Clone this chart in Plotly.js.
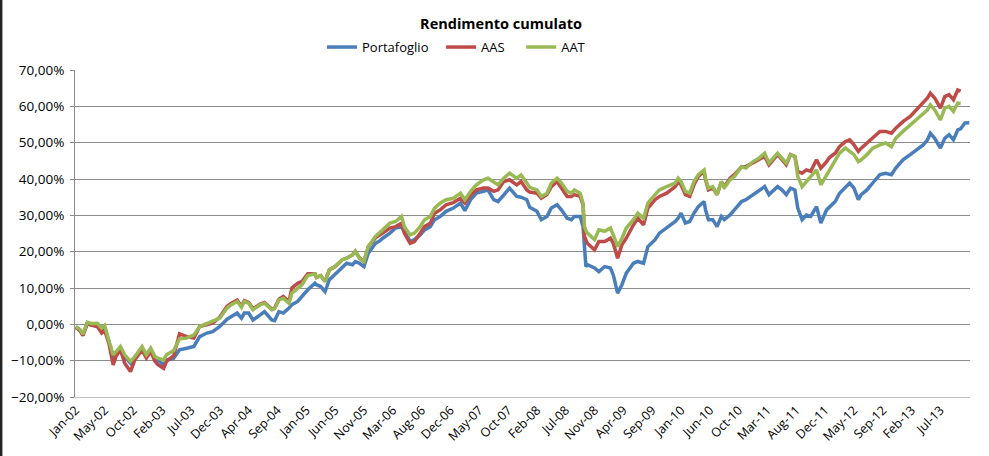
<!DOCTYPE html>
<html>
<head>
<meta charset="utf-8">
<script src="https://cdn.plot.ly/plotly-3.0.1.min.js"></script>
<style>
html,body{margin:0;padding:0;background:#fff;}
#chart{width:989px;height:456px;}
</style>
</head>
<body>
<div id="chart"></div>
<script>
// weekly category index (week 0 = first week of Jan 2002)
const weeks = [0,3,5,8,11,15,18,20,23,26,28,31,34,38,41,46,49,52,55,57,61,63,68,72,77,82,86,91,95,100,
105,108,112,115,117,120,123,128,131,136,138,141,144,148,150,154,157,161,166,167,170,173,176,180,185,188,192,194,197,200,
203,208,211,213,218,222,226,228,232,235,239,242,246,249,253,257,262,267,270,274,278,283,286,290,293,297,301,306,309,313,
315,320,323,327,330,334,337,341,344,346,350,352,353,354,355,360,363,367,371,373,376,379,382,387,390,394,397,402,405,410,
416,418,420,423,426,429,432,436,437,439,442,445,448,450,454,457,462,465,470,474,478,481,485,487,490,493,496,499,501,504,
507,510,514,517,521,523,527,530,534,537,540,543,545,549,553,558,562,566,569,574,579,583,588,591,593,596,600,603,606,609,
612,614,617,620];

const portafoglio = [-0.7,-1.6,-2.9,0.3,-0.2,-0.4,-1.5,-1.0,-4.7,-9.3,-7.8,-6.8,-8.9,-10.7,-9.0,-6.6,-8.5,-6.8,-9.3,-9.8,-11.2,-9.8,-9.3,-7.0,-6.6,-6.1,-3.4,-2.4,-2.0,-0.6,
1.4,2.2,3.1,1.7,3.1,3.1,1.2,2.6,3.5,1.2,1.0,3.5,3.1,4.5,5.4,6.3,7.7,9.5,11.3,10.9,10.4,9.0,12.3,13.9,15.9,16.8,16.4,17.3,16.8,15.9,
19.6,22.3,23.0,23.7,25.1,26.5,26.9,25.5,22.8,23.3,24.6,26.0,26.9,28.8,29.7,31.1,32.0,33.4,31.3,34.3,36.1,36.6,37.0,34.3,33.8,35.6,37.5,35.2,35.0,34.3,
32.2,31.1,28.8,29.7,32.0,32.9,31.5,29.2,28.8,29.7,29.7,26.9,21.4,15.9,16.4,15.5,14.5,15.9,15.5,13.6,8.6,10.9,14.1,16.8,17.3,16.8,21.4,23.3,25.1,26.5,
28.3,29.2,30.6,27.9,28.3,30.6,32.4,33.8,31.5,28.8,28.8,26.9,29.7,28.8,30.1,31.5,33.8,34.3,35.7,36.6,37.9,35.7,37.0,37.9,37.0,35.7,37.5,37.0,32.0,28.8,
30.1,29.7,32.4,27.9,31.5,32.2,33.8,36.1,37.9,38.9,37.5,34.3,35.7,37.0,38.9,41.2,41.6,41.2,43.0,45.3,46.7,48.0,49.4,50.8,52.6,51.2,48.5,51.2,52.2,50.8,
53.5,53.8,55.4,55.5];

const aas = [-0.8,-1.8,-3.1,0.2,-0.3,-0.6,-2.4,-1.6,-5.2,-11.2,-8.8,-7.0,-10.7,-13.0,-9.8,-7.0,-9.3,-7.5,-10.2,-11.1,-12.1,-10.2,-8.6,-2.6,-3.4,-3.8,-0.6,-0.1,0.3,2.0,
5.0,5.8,6.7,5.0,6.5,6.0,4.2,5.6,6.0,4.2,4.5,6.9,7.7,6.3,10.0,11.3,11.8,13.9,13.9,12.9,13.4,11.8,15.0,15.9,17.8,18.2,19.1,20.1,18.2,17.3,
21.4,23.8,24.5,25.1,26.5,26.9,27.8,25.1,22.3,22.8,25.1,26.9,27.8,30.6,31.5,32.9,33.5,34.7,33.4,35.6,37.0,37.5,37.5,36.6,37.0,39.3,39.8,38.4,39.3,37.0,
36.4,36.1,34.7,35.7,37.9,39.3,37.5,35.2,35.2,35.7,35.2,32.9,24.2,23.0,22.3,20.5,22.8,22.8,23.7,22.3,18.2,21.9,23.7,27.4,29.2,27.4,32.0,34.3,35.2,36.1,
37.9,39.3,38.4,35.7,35.2,38.4,40.7,42.1,39.8,37.0,37.5,35.7,39.3,37.9,40.2,41.2,43.4,43.4,44.4,45.3,46.2,43.9,45.7,46.7,45.3,43.9,46.7,46.2,42.1,41.6,
42.5,42.1,45.3,43.0,44.8,45.9,47.1,48.9,50.3,50.8,49.4,47.6,48.5,49.9,51.2,53.1,53.1,52.6,54.0,55.8,57.2,59.0,60.9,62.3,63.6,62.3,59.5,62.7,63.2,61.8,
64.5,64.2,null,null];

const aat = [-0.6,-1.4,-2.7,0.6,0.2,0.3,-1.0,-0.3,-4.5,-8.4,-7.5,-6.1,-8.4,-10.2,-8.9,-6.1,-8.4,-6.6,-8.9,-9.3,-9.8,-8.4,-7.2,-4.0,-3.8,-2.9,-0.6,0.3,0.8,1.7,
4.5,5.4,6.3,4.7,6.3,5.8,4.0,5.4,5.8,4.0,4.3,6.7,7.2,5.8,8.6,10.0,10.9,13.4,13.9,12.9,13.4,11.8,15.0,15.9,17.8,18.2,19.1,20.1,18.2,17.3,
21.4,24.2,25.1,26.0,27.9,28.3,29.7,26.9,24.6,25.1,26.9,28.8,29.7,32.0,33.4,34.3,34.7,36.1,34.3,36.6,38.4,39.8,40.2,39.3,38.4,40.2,41.6,40.2,41.1,38.9,
37.7,37.0,35.2,36.1,38.9,40.2,38.9,36.6,36.1,37.0,36.1,33.4,26.9,25.8,25.1,23.3,26.0,25.6,26.5,24.6,21.4,23.7,26.5,28.8,30.6,29.2,33.4,35.7,37.0,37.9,
38.9,40.2,39.3,36.6,36.1,39.3,41.2,42.5,40.2,37.5,37.9,35.7,39.3,37.5,39.8,40.7,43.4,43.0,44.8,45.7,47.1,44.4,46.2,47.1,45.7,44.4,46.7,46.2,40.7,37.9,
39.3,40.7,42.5,38.4,41.2,42.6,45.3,47.1,48.5,47.6,46.7,44.8,45.3,46.7,48.5,49.4,49.9,48.9,51.2,53.1,54.9,56.3,58.1,59.0,60.4,59.0,56.3,59.5,60.0,58.6,
60.9,60.8,null,null];

const tickWeeks = [0,20,40,60,80,100,120,140,160,180,200,220,240,260,280,300,320,340,360,380,400,420,440,460,480,500,520,540,560,580,600];
const tickLabels = ['Jan-02','May-02','Oct-02','Feb-03','Jul-03','Dec-03','Apr-04','Sep-04','Jan-05','Jun-05','Nov-05','Mar-06','Aug-06','Dec-06','May-07','Oct-07','Feb-08','Jul-08','Nov-08','Apr-09','Sep-09','Jan-10','Jun-10','Oct-10','Mar-11','Aug-11','Dec-11','May-12','Sep-12','Feb-13','Jul-13'];

const seriesNames = ['Portafoglio','AAS','AAT'];
const seriesColors = ['#4A7EBB','#BE4B48','#98B954'];
const seriesValues = [portafoglio, aas, aat];

const FONT = '"Open Sans", "Noto Sans", Arial, sans-serif';
const legendIds = ['legend', 'legend2', 'legend3'];
const legendX = [0.276, 0.409, 0.4985];

const traces = seriesValues.map((vals, i) => ({
  type: 'scatter',
  mode: 'lines',
  x: weeks,
  y: vals,
  name: seriesNames[i],
  legend: legendIds[i],
  line: {color: seriesColors[i], width: 3.5},
  connectgaps: false,
  hoverinfo: 'skip'
}));

function legendBox(x) {
  return {
    orientation: 'h',
    x: x, xanchor: 'left',
    y: 1.07, yanchor: 'middle',
    font: {family: FONT, size: 13, color: '#000'},
    itemclick: false,
    bgcolor: 'rgba(0,0,0,0)'
  };
}

const layout = {
  width: 989,
  height: 456,
  margin: {l: 75, r: 19, t: 70, b: 59},
  paper_bgcolor: '#ffffff',
  plot_bgcolor: '#ffffff',
  separators: ',.',
  font: {family: FONT, size: 13, color: '#000'},
  title: {
    text: '<b>Rendimento cumulato</b>',
    font: {family: FONT, size: 14.5, color: '#000'},
    x: 0.5066, xref: 'container', xanchor: 'center',
    y: 0.948, yref: 'container', yanchor: 'middle'
  },
  showlegend: true,
  legend: legendBox(legendX[0]),
  legend2: legendBox(legendX[1]),
  legend3: legendBox(legendX[2]),
  xaxis: {
    type: 'linear',
    range: [-0.5, 620.5],
    tickmode: 'array',
    tickvals: tickWeeks,
    ticktext: tickLabels,
    tickangle: -45,
    tickfont: {family: FONT, size: 12.5, color: '#000'},
    showgrid: false,
    zeroline: false,
    showline: true,
    linecolor: '#bfbfbf',
    linewidth: 1,
    ticks: '',
    fixedrange: true
  },
  yaxis: {
    range: [-20, 70],
    tickmode: 'linear',
    tick0: -20,
    dtick: 10,
    tickformat: '.2f',
    ticksuffix: '%',
    tickfont: {family: FONT, size: 13.5, color: '#000'},
    ticklabelstandoff: 3,
    showgrid: true,
    gridcolor: '#8c8c8c',
    gridwidth: 1,
    zeroline: false,
    showline: true,
    linecolor: '#8c8c8c',
    linewidth: 1,
    ticks: 'outside',
    ticklen: 4,
    tickcolor: '#8c8c8c',
    fixedrange: true
  },
  shapes: [{
    type: 'line', xref: 'paper', yref: 'paper',
    x0: -75/895 + 0.001, x1: -75/895 + 0.001, y0: -59/327, y1: 1 + 70/327,
    line: {color: '#222', width: 3}
  }]
};

Plotly.newPlot('chart', traces, layout, {displayModeBar: false, staticPlot: true});
</script>
</body>
</html>
